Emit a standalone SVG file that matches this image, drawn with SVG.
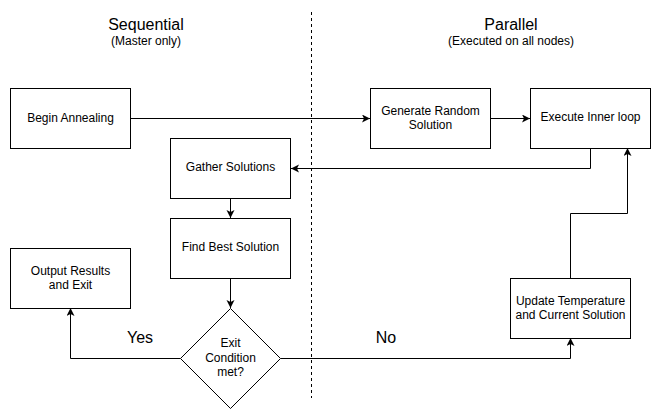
<svg xmlns="http://www.w3.org/2000/svg" width="662" height="420" viewBox="0 0 662 420">
<style>
.box{fill:#fff;stroke:#000;stroke-width:1}
.t{font-family:"Liberation Sans",Arial,sans-serif;font-size:12px;fill:#000;text-anchor:middle;dominant-baseline:central}
.h{font-family:"Liberation Sans",Arial,sans-serif;font-size:16px;fill:#000;text-anchor:middle;dominant-baseline:central}
.c{fill:none;stroke:#000;stroke-width:1}
</style>
<defs>
<marker id="a" markerWidth="10" markerHeight="10" refX="8" refY="4" orient="auto" markerUnits="userSpaceOnUse">
<path d="M0,0 L8,4 L0,8 L2,4 z" fill="#000"/>
</marker>
</defs>
<rect width="662" height="420" fill="#fff"/>
<g id="divider">
<line x1="311.5" y1="12" x2="311.5" y2="398" stroke="#000" stroke-width="1" stroke-dasharray="3,3"/>
</g>
<g id="headers">
<text class="h" x="146" y="24">Sequential</text>
<text class="t" x="146" y="41">(Master only)</text>
<text class="h" x="511" y="24">Parallel</text>
<text class="t" x="511" y="41">(Executed on all nodes)</text>
</g>
<g id="connectors">
<path class="c" d="M130.5,118.5 H370" marker-end="url(#a)"/>
<path class="c" d="M490.5,118.5 H530" marker-end="url(#a)"/>
<path class="c" d="M590.5,148 V168.5 H291" marker-end="url(#a)"/>
<path class="c" d="M230.5,198 V218" marker-end="url(#a)"/>
<path class="c" d="M230.5,278 V308" marker-end="url(#a)"/>
<path class="c" d="M180.5,358.5 H70.5 V308" marker-end="url(#a)"/>
<path class="c" d="M280.5,358.5 H570.5 V338" marker-end="url(#a)"/>
<path class="c" d="M570.5,278 V213.5 H627.5 V148" marker-end="url(#a)"/>
<text class="h" x="140" y="337">Yes</text>
<text class="h" x="386" y="337">No</text>
</g>
<g id="begin">
<rect class="box" x="10.5" y="88.5" width="120" height="60"/>
<text class="t" x="70.5" y="118">Begin Annealing</text>
</g>
<g id="generate">
<rect class="box" x="370.5" y="88.5" width="120" height="60"/>
<text class="t" x="430.5" y="111">Generate Random</text>
<text class="t" x="430.5" y="125">Solution</text>
</g>
<g id="execute">
<rect class="box" x="530.5" y="88.5" width="120" height="60"/>
<text class="t" x="590.5" y="117">Execute Inner loop</text>
</g>
<g id="gather">
<rect class="box" x="170.5" y="138.5" width="120" height="60"/>
<text class="t" x="230.5" y="167">Gather Solutions</text>
</g>
<g id="findbest">
<rect class="box" x="170.5" y="218.5" width="120" height="60"/>
<text class="t" x="230.5" y="247">Find Best Solution</text>
</g>
<g id="output">
<rect class="box" x="10.5" y="248.5" width="120" height="60"/>
<text class="t" x="70.5" y="271">Output Results</text>
<text class="t" x="70.5" y="285">and Exit</text>
</g>
<g id="update">
<rect class="box" x="510.5" y="278.5" width="120" height="60"/>
<text class="t" x="570.5" y="301">Update Temperature</text>
<text class="t" x="570.5" y="315">and Current Solution</text>
</g>
<g id="decision">
<path class="box" d="M230.5,308.5 L280.5,358.5 L230.5,408.5 L180.5,358.5 Z"/>
<text class="t" x="230.5" y="343">Exit</text>
<text class="t" x="230.5" y="357.5">Condition</text>
<text class="t" x="230.5" y="372">met?</text>
</g>
</svg>
